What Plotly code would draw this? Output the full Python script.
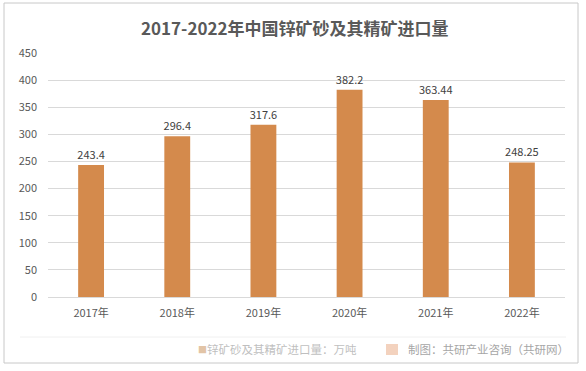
import plotly.graph_objects as go

years = ["2017年", "2018年", "2019年", "2020年", "2021年", "2022年"]
values = [243.4, 296.4, 317.6, 382.2, 363.44, 248.25]
value_labels = ["243.4", "296.4", "317.6", "382.2", "363.44", "248.25"]
y_ticks = [0, 50, 100, 150, 200, 250, 300, 350, 400, 450]

title_text = "2017-2022年中国锌矿砂及其精矿进口量"
legend_text = "锌矿砂及其精矿进口量：万吨"
source_text = "制图：共研产业咨询（共研网）"

W, H = 586, 371
L, R, T, B = 48, 565, 53, 297
FONT = "Noto Sans CJK SC, Microsoft YaHei, sans-serif"


def px(x):
    return (x - L) / (R - L)


def py(y):
    return (B - y) / (B - T)


fig = go.Figure()
fig.add_trace(go.Bar(
    x=years, y=values,
    marker=dict(color="#D48A4C", line=dict(width=0)),
    text=value_labels, textposition="outside", cliponaxis=False,
    constraintext="none",
    textfont=dict(size=11, color="#404040", family=FONT),
    width=0.3,
))

fig.update_layout(
    width=W, height=H, autosize=False,
    margin=dict(l=L, r=W - R, t=T, b=H - B, pad=0),
    paper_bgcolor="white", plot_bgcolor="white",
    showlegend=False,
    font=dict(family=FONT, color="#595959", size=11),
    xaxis=dict(
        type="category", showgrid=False, zeroline=False,
        showline=True, linecolor="#D9D9D9", linewidth=1,
        ticks="", tickfont=dict(size=11, color="#595959"),
        ticklabelstandoff=6,
    ),
    yaxis=dict(
        range=[0, 450], tickvals=y_ticks, showgrid=True, gridcolor="#D9D9D9",
        gridwidth=1, zeroline=False, showline=False,
        tickfont=dict(size=11, color="#595959"), ticklabelstandoff=10,
    ),
)

fig.add_annotation(
    text="<b>" + title_text + "</b>", xref="paper", yref="paper",
    x=px(295), y=py(28), xanchor="center", yanchor="middle", showarrow=False,
    font=dict(size=17, color="#595959", family=FONT),
)

# Frame
fig.add_shape(type="rect", xref="paper", yref="paper",
              x0=px(4), x1=px(578), y0=py(363), y1=py(3),
              line=dict(color="#C8C8C8", width=1), fillcolor="rgba(0,0,0,0)", layer="below")
# separator above footer
fig.add_shape(type="line", xref="paper", yref="paper",
              x0=px(20), x1=px(566), y0=py(337), y1=py(337),
              line=dict(color="#F0F0F0", width=1))

fig.add_annotation(
    text="■", xref="paper", yref="paper", x=px(196), y=py(349),
    xanchor="left", yanchor="middle", showarrow=False,
    font=dict(size=9, color="#E2C4A6", family=FONT),
)
fig.add_annotation(
    text=legend_text, xref="paper", yref="paper", x=px(205), y=py(349),
    xanchor="left", yanchor="middle", showarrow=False,
    font=dict(size=11.5, color="#BFBFBF", family=FONT),
)
fig.add_shape(type="rect", xref="paper", yref="paper",
              x0=px(386), x1=px(398), y0=py(355), y1=py(344),
              line=dict(width=0), fillcolor="#F3D2BE")
fig.add_annotation(
    text=source_text, xref="paper", yref="paper", x=px(406), y=py(349),
    xanchor="left", yanchor="middle", showarrow=False,
    font=dict(size=11.5, color="#A6A6A6", family=FONT),
)

fig.write_html("out.html", config={"displayModeBar": False},
               post_script="document.body.style.margin='0';")
